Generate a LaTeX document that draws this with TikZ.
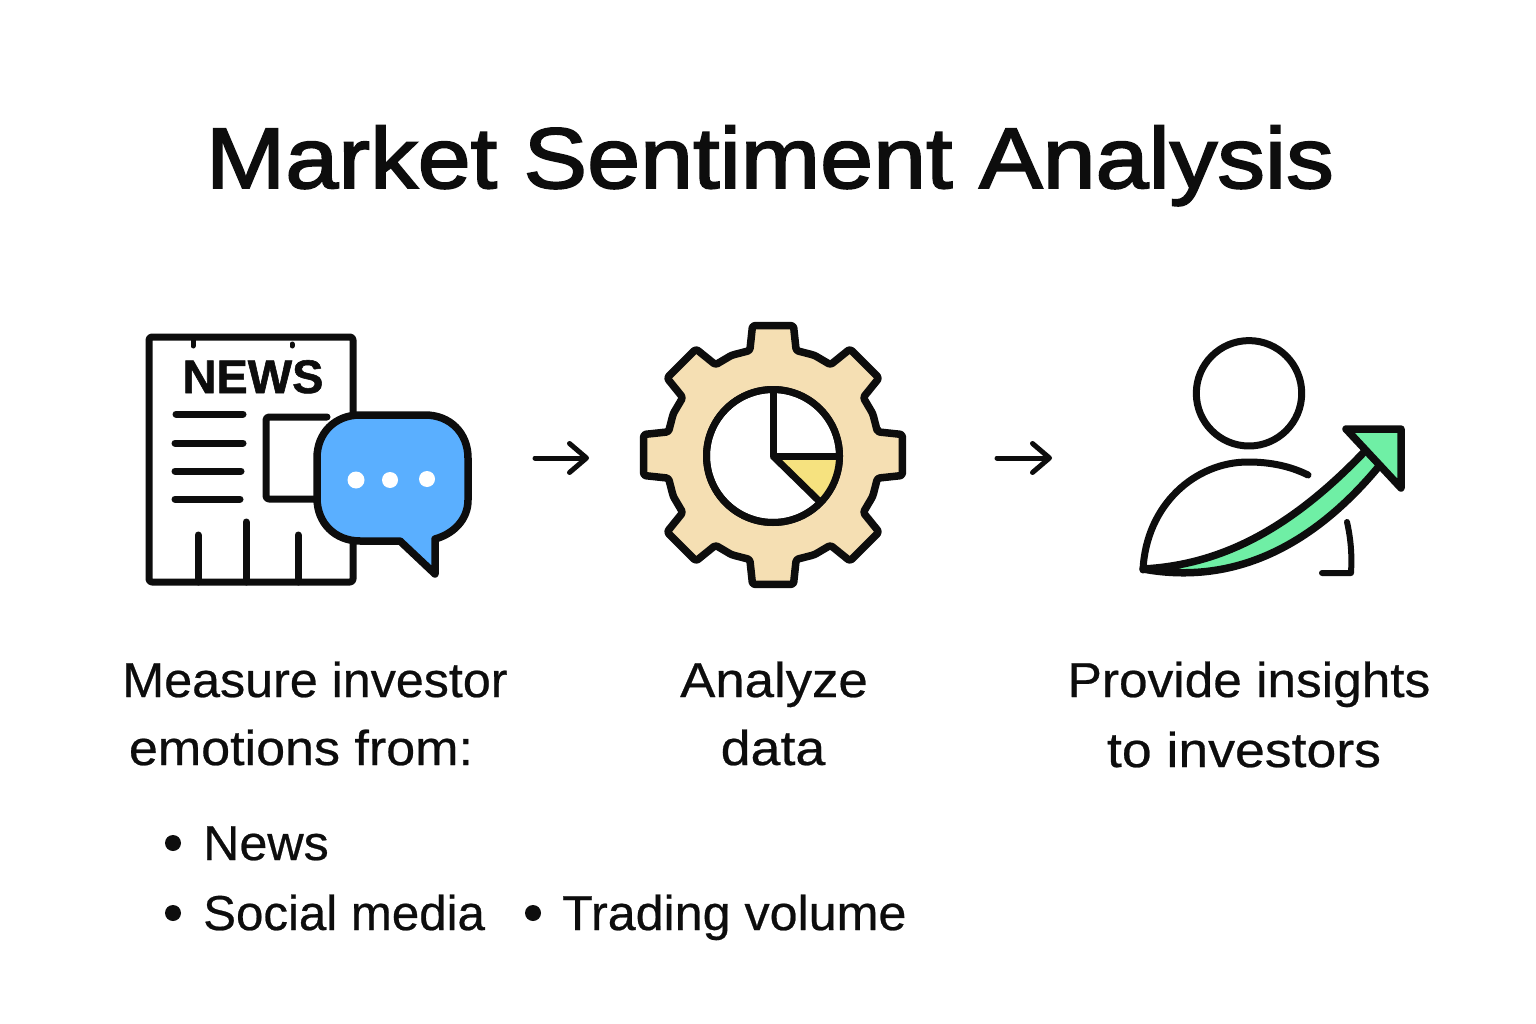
\documentclass[tikz,border=0pt]{standalone}
\usepackage{fontspec}
\setmainfont[FakeStretch=1.025,FakeBold=0.5]{Liberation Sans}
\newfontfamily\titlefont[FakeBold=2.2,FakeStretch=1.108]{Liberation Sans}
\newfontfamily\newsfont[FakeBold=1.2]{Liberation Sans}
\usetikzlibrary{arrows.meta}
\definecolor{ink}{HTML}{0D0D0D}
\definecolor{bubble}{HTML}{5AAFFF}
\definecolor{gearfill}{HTML}{F5DFB3}
\definecolor{wedge}{HTML}{F6E27F}
\definecolor{green}{HTML}{6FEFA5}
\tikzset{
  icon/.style={draw=ink,line width=7pt,line join=round,line cap=round},
  thin icon/.style={draw=ink,line width=5pt,line cap=round},
  body/.style={font=\fontsize{49}{49}\selectfont,text=ink,inner sep=0pt,anchor=base},
  bodyw/.style={font=\fontsize{49}{49}\selectfont,text=ink,inner sep=0pt,anchor=base west},
  dot/.style={circle,fill=ink,inner sep=0pt,minimum size=16pt},
  flow/.style={draw=ink,line width=5pt,line cap=round,line join=round,-{Straight Barb[length=17pt,width=29pt,line width=5pt,round]}},
}
\begin{document}
\begin{tikzpicture}[x=1pt,y=-1pt]
\useasboundingbox (0,0) rectangle (1536,1024);
\fill[white] (0,0) rectangle (1536,1024);
\node[inner sep=0pt,anchor=base,text=ink,font=\titlefont\fontsize{86}{86}\selectfont] (title) at (770,188) {Market Sentiment Analysis};
% newspaper
\path[icon,fill=white,rounded corners=3pt] (149,337) rectangle (353,582);
\draw[thin icon] (193,340) -- (193,346);
\draw[thin icon] (292,344) -- (292,346);
\node[inner sep=0pt,anchor=base,text=ink,font=\newsfont\bfseries\fontsize{47}{47}\selectfont] (news) at (253,393) {NEWS};
\draw[icon] (176,414) -- (243,414);
\draw[icon] (175,443) -- (243,443);
\draw[icon] (175,471) -- (241,471);
\draw[icon] (175,499) -- (240,499);
\draw[icon,rounded corners=3pt] (327,417) -- (266,417) -- (266,499) -- (330,499);
\draw[icon] (198,535) -- (198,582);
\draw[icon] (246,522) -- (246,582);
\draw[icon] (298,535) -- (298,582);
% bubble
\path[icon,line width=7.5pt,fill=bubble] (360,415) -- (425,415) .. controls (450,415) and (468,433) .. (468,458) -- (468,500) .. controls (468,520) and (453,534) .. (435,539) -- (435,574) -- (400,541) -- (360,541) .. controls (335,541) and (317,523) .. (317,498) -- (317,458) .. controls (317,433) and (335,415) .. (360,415) -- cycle;
\fill[white] (356,480) circle[radius=8.5];
\fill[white] (390,480) circle[radius=8];
\fill[white] (427,479) circle[radius=8];
% gear
\begin{scope}[shift={(773,455)}]
\path[icon,line width=7.5pt,fill=gearfill,rounded corners=2.5pt]
  (-12.5:107) \foreach \a in {0,45,...,315} { -- ({\a-12.5}:107) -- ({\a-9}:131) -- ({\a+9}:131) -- ({\a+12.5}:107) -- ({\a+22.5}:108) } -- cycle;
\path[draw=ink,line width=7pt,fill=white] (0,1) circle[radius=66.5];
\fill[wedge] (0,1) -- (66,1) arc[start angle=0,end angle=41,radius=66] -- cycle;
\draw[draw=ink,line width=7pt,line join=round] (0,-65) -- (0,1) -- (66,1);
\draw[draw=ink,line width=7pt] (0,1) -- (46,46);
\draw[draw=ink,line width=7pt] (0,1) circle[radius=66.5];
\end{scope}
% person
\draw[icon] (1249,393.3) circle[radius=52.7];
\draw[icon] (1308,475) .. controls (1290,466) and (1270,462) .. (1248,462) .. controls (1195,462) and (1146,505) .. (1143,570);
\draw[icon,line width=6pt] (1347,522) .. controls (1351,540) and (1352,555) .. (1351,573) -- (1322,573);
\path[icon,line width=7.5pt,fill=green] (1143,569) .. controls (1220,565) and (1290,530) .. (1366,450) -- (1380,465) .. controls (1310,550) and (1230,585) .. (1143,569) -- cycle;
\path[icon,line width=7.5pt,fill=green] (1346,429) -- (1401,429) -- (1401,488) -- cycle;
% flow arrows
\coordinate (a1s) at (535,458); \coordinate (a1e) at (589,458);
\coordinate (a2s) at (997,458); \coordinate (a2e) at (1052,458);
\draw[flow] (a1s) -- (a1e);
\draw[flow] (a2s) -- (a2e);
% text
\node[body] (t1) at (315,697) {Measure investor};
\node[body] (t2) at (301,765) {\scalebox{1.036}[1]{emotions from:}};
\node[body] (t3) at (774,697) {\scalebox{1.05}[1]{Analyze}};
\node[body] (t4) at (773,765) {\scalebox{1.07}[1]{data}};
\node[body] (t5) at (1249,697) {\scalebox{1.023}[1]{Provide insights}};
\node[body] (t6) at (1244,767) {\scalebox{1.067}[1]{to investors}};
\node[dot] (b1) at (173,843) {};
\node[dot] (b2) at (173,913) {};
\node[dot] (b3) at (533,913) {};
\node[bodyw] (l1) at (203,860) {News};
\node[bodyw] (l2) at (203,930) {\scalebox{0.98}[1]{Social media}};
\node[bodyw] (l3) at (562,930) {Trading volume};
\end{tikzpicture}
\end{document}
